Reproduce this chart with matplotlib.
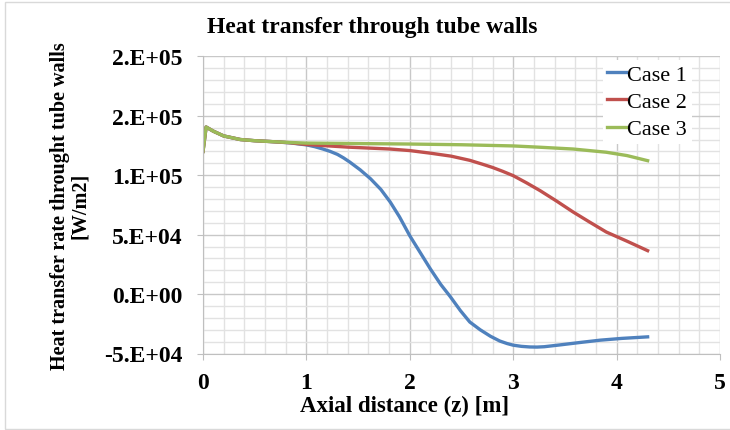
import matplotlib
matplotlib.use('Agg')
import matplotlib.pyplot as plt
from matplotlib.ticker import MultipleLocator, FuncFormatter
from matplotlib.patches import Rectangle

plt.rcParams['font.family'] = ['Liberation Serif', 'DejaVu Serif']

# values (z in m, q in W/m2)
z_case1 = [0, 0.03, 0.1, 0.2, 0.36, 0.5, 0.65, 0.84, 1.0, 1.08, 1.16, 1.23, 1.3, 1.36, 1.42,
           1.52, 1.62, 1.72, 1.81, 1.9, 2.0, 2.1, 2.2, 2.3, 2.39, 2.49, 2.58, 2.68, 2.78,
           2.87, 2.94, 3.0, 3.08, 3.16, 3.23, 3.3, 3.45, 3.65, 3.84, 4.05, 4.3]
q_case1 = [120000, 140500, 137000, 133000, 130000, 129000, 128300, 127200, 125500, 124000,
           122000, 120000, 117500, 114500, 111000, 104500, 97000, 88000, 77500, 65000,
           49000, 35000, 21000, 8000, -2000, -14000, -23500, -30000, -35500, -39500,
           -41600, -43000, -44000, -44500, -44600, -44300, -42800, -40700, -38800, -37300,
           -36000]

z_case2 = [0, 0.03, 0.1, 0.2, 0.36, 0.5, 0.65, 0.84, 1.0, 1.4, 1.81, 2.0, 2.2, 2.4, 2.58,
           2.7, 2.8, 2.9, 3.0, 3.13, 3.26, 3.42, 3.58, 3.74, 3.9, 4.1, 4.3]
q_case2 = [120000, 140500, 137000, 133000, 130000, 129000, 128300, 127300, 125800, 123600,
           122000, 120700, 118500, 116000, 112500, 109300, 106500, 103200, 99600, 93500,
           87000, 78200, 69000, 60500, 52200, 44500, 36500]

z_case3 = [0, 0.03, 0.1, 0.2, 0.36, 0.5, 0.65, 0.84, 1.0, 1.5, 2.0, 2.5, 3.0, 3.26, 3.58,
           3.9, 4.1, 4.3]
q_case3 = [120000, 140500, 137000, 133000, 130000, 129000, 128300, 127500, 127000, 126600,
           126200, 125600, 124600, 123500, 122000, 119300, 116500, 112200]

labels = ['Case 1', 'Case 2', 'Case 3']
colors = ['#4F81BD', '#C0504D', '#9BBB59']

fig = plt.figure(figsize=(7.3, 4.31), dpi=100)
ax = fig.add_axes([203/730, 1 - 354.5/431, (720 - 203)/730, (354.5 - 57.3)/431])

ax.plot(z_case1, q_case1, color=colors[0], linewidth=2.4, label=labels[0])
ax.plot(z_case2, q_case2, color=colors[1], linewidth=2.4, label=labels[1])
ax.plot(z_case3, q_case3, color=colors[2], linewidth=2.4, label=labels[2])

ax.set_xlim(0, 5)
ax.set_ylim(-50000, 200000)
ax.xaxis.set_major_locator(MultipleLocator(1))
ax.xaxis.set_minor_locator(MultipleLocator(0.2))
ax.yaxis.set_major_locator(MultipleLocator(50000))
ax.yaxis.set_minor_locator(MultipleLocator(10000))
ax.yaxis.set_major_formatter(FuncFormatter(lambda v, p: f"{v:#.0E}"))

ax.grid(which='major', color='#c8c8c8', linewidth=1.0)
ax.grid(which='minor', color='#e2e2e2', linewidth=1.0)
ax.set_axisbelow(True)
for s in ['top', 'right']:
    ax.spines[s].set_visible(False)
for s in ['left', 'bottom']:
    ax.spines[s].set_color('#bfbfbf')

ax.tick_params(which='major', length=4.5, color='#bfbfbf', labelsize=17, pad=10)
ax.tick_params(which='minor', length=0)
ax.tick_params(axis='x', pad=9)
for t in ax.get_xticklabels() + ax.get_yticklabels():
    t.set_fontweight('bold')

ax.set_xlabel('Axial distance (z) [m]', fontsize=16.5, fontweight='bold', labelpad=1,
              x=(405 - 203)/517)
ax.set_ylabel('Heat transfer rate throught tube walls\n[W/m2]', fontsize=14.5,
              fontweight='bold', labelpad=10, linespacing=1.0)
fig.text(372/730, 1 - 28/431, 'Heat transfer through tube walls', ha='center', va='center',
         fontsize=17, fontweight='bold')

leg = ax.legend(loc='upper left', bbox_to_anchor=(603/730, 1 - 61/431),
                bbox_transform=fig.transFigure, frameon=True, fontsize=16,
                handlelength=0.85, handletextpad=0.05, labelspacing=0.3,
                borderpad=0.2, borderaxespad=0)
leg.get_frame().set_facecolor('white')
leg.get_frame().set_edgecolor('none')
leg.get_frame().set_alpha(1)
leg.get_frame().set_boxstyle('square', pad=0)

# chart-area border
fig.add_artist(Rectangle((5/730, 1/431), 740/730, 427/431, transform=fig.transFigure,
                         fill=False, edgecolor='#d9d9d9', linewidth=1.0))

fig.savefig('out.png', dpi=100)
